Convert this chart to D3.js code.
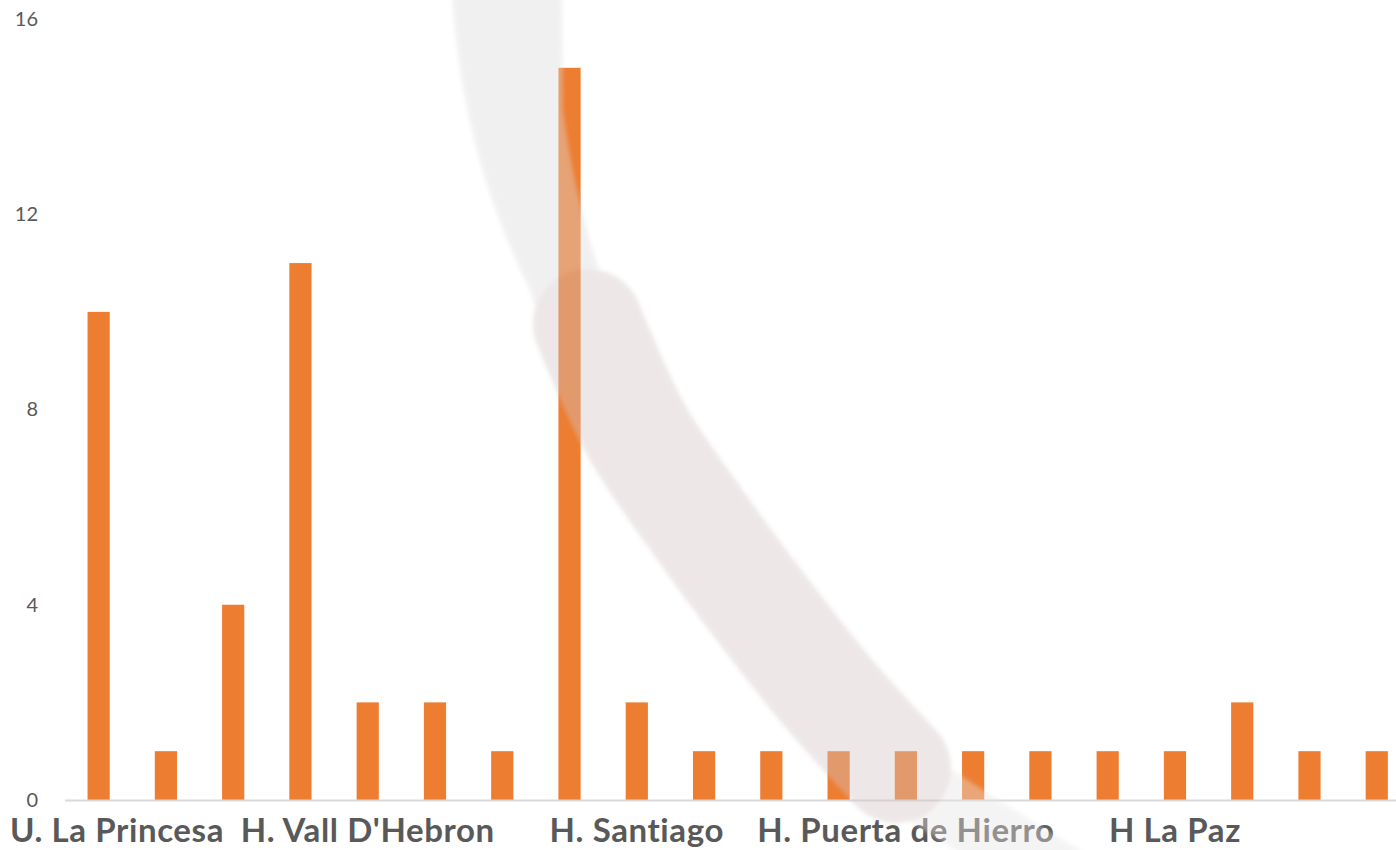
<!DOCTYPE html>
<html>
<head>
<meta charset="utf-8">
<script src="https://cdn.jsdelivr.net/npm/d3@7"></script>
<style>
  html, body { margin: 0; padding: 0; background: #ffffff; }
  svg { display: block; }
</style>
</head>
<body>
<svg id="chart" width="1396" height="850"></svg>
<script>
// ---- data ----
const categories = [
  "U. La Princesa", "", "", "",
  "H. Vall D'Hebron", "", "", "",
  "H. Santiago", "", "", "",
  "H. Puerta de Hierro", "", "", "",
  "H La Paz", "", "", ""
];
const values = [10, 1, 4, 11, 2, 2, 1, 15, 2, 1, 1, 1, 1, 1, 1, 1, 1, 2, 1, 1];
const yTicks = [0, 4, 8, 12, 16];

// ---- layout ----
const W = 1396, H = 850;
const svg = d3.select("#chart");
const keys = categories.map((c, i) => i);

const x = d3.scaleBand()
  .domain(keys)
  .range([65, 1410.4])
  .paddingInner(0.67)
  .paddingOuter(0.335);

const y = d3.scaleLinear().domain([0, 16]).range([800, 19]);

// y axis labels
const yAxis = d3.axisLeft(y).tickValues(yTicks).tickSize(0).tickPadding(0);
const gy = svg.append("g").attr("transform", "translate(38,0)").call(yAxis);
gy.select(".domain").remove();
gy.selectAll("text")
  .attr("font-family", "Lato, 'Open Sans', sans-serif")
  .attr("font-size", 20)
  .attr("fill", "#595959");

// bars
svg.append("g").selectAll("rect")
  .data(values)
  .join("rect")
  .attr("x", (d, i) => x(i))
  .attr("y", d => y(d))
  .attr("width", x.bandwidth())
  .attr("height", d => y(0) - y(d))
  .attr("fill", "#ED7D31");

// baseline
svg.append("line")
  .attr("x1", 65).attr("x2", W)
  .attr("y1", y(0) + 0.5).attr("y2", y(0) + 0.5)
  .attr("stroke", "#D9D9D9")
  .attr("stroke-width", 2);

// category labels (every 4th shown)
const gx = svg.append("g");
categories.forEach((c, i) => {
  if (!c) return;
  const t = gx.append("text")
    .attr("y", 842)
    .attr("font-family", "Lato, 'Open Sans', sans-serif")
    .attr("font-weight", "bold")
    .attr("font-size", 33)
    .attr("letter-spacing", 0.6)
    .attr("fill", "#595959")
    .attr("text-anchor", "middle")
    .text(c);
  const w = t.node().getComputedTextLength();
  const cx = Math.max(x(i) + x.bandwidth() / 2, 10 + w / 2);
  t.attr("x", cx);
});

// ---- watermark (decorative, drawn on top) ----
const defs = svg.append("defs");
defs.append("filter").attr("id", "soft")
  .attr("x", "-20%").attr("y", "-20%").attr("width", "140%").attr("height", "140%")
  .append("feGaussianBlur").attr("stdDeviation", 2);

const wm = svg.append("g").attr("opacity", 0.4).attr("filter", "url(#soft)");

const line = d3.line().curve(d3.curveCatmullRom);

// grey upper swoosh
wm.append("path")
  .attr("d", "M452,-5 C458,90 480,190 530,290 L560,380 L640,380 L610,300 C590,250 572,180 563,110 L562,-5 Z")
  .attr("fill", "#dcdcdc");

// faint lower tail
wm.append("path")
  .attr("d", line([[915, 785], [1000, 840], [1090, 895]]))
  .attr("fill", "none")
  .attr("stroke", "#e8e4e4")
  .attr("stroke-width", 66)
  .attr("stroke-linecap", "round");

// pink diagonal band
wm.append("path")
  .attr("d", line([[588, 324], [636, 430], [700, 525], [768, 617], [830, 695], [896, 768]]))
  .attr("fill", "none")
  .attr("stroke", "#d4c5c5")
  .attr("stroke-width", 110)
  .attr("stroke-linecap", "round");
</script>
</body>
</html>
